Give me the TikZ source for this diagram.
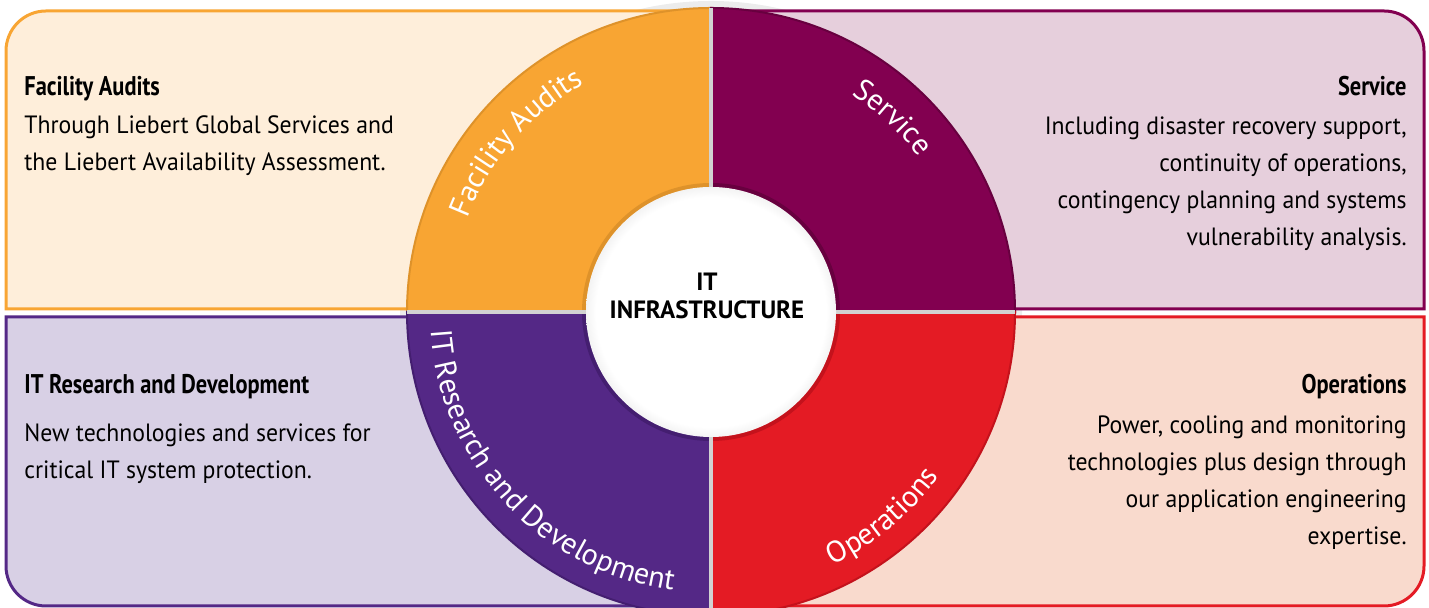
\documentclass[tikz,border=0pt]{standalone}
\usepackage{fontspec}
\setmainfont{PT Sans}
\usetikzlibrary{positioning}
\usetikzlibrary{calc}
\usetikzlibrary{decorations.text}
\newfontfamily\headfont[FakeStretch=0.83]{PT Sans}
\newfontfamily\bodyfont[FakeStretch=0.95]{PT Sans}
\newcommand{\arcfont}{\fontsize{15}{15}\selectfont}
\definecolor{audOr}{RGB}{248,165,51}
\definecolor{audOrDk}{RGB}{222,146,42}
\definecolor{audBg}{RGB}{254,238,218}
\definecolor{srvMg}{RGB}{130,0,80}
\definecolor{srvMgDk}{RGB}{104,0,63}
\definecolor{srvBg}{RGB}{230,207,220}
\definecolor{resPu}{RGB}{84,40,134}
\definecolor{resPuDk}{RGB}{68,30,112}
\definecolor{resBg}{RGB}{216,208,229}
\definecolor{opsRd}{RGB}{228,27,36}
\definecolor{opsRdDk}{RGB}{196,18,28}
\definecolor{opsBg}{RGB}{249,218,205}
\pgfdeclareradialshading{hubshade}{\pgfpoint{0bp}{0bp}}{color(0bp)=(white); color(23bp)=(white); color(35bp)=(gray!55); color(50bp)=(gray!55)}
\tikzset{
  panel/.style={line width=1.5pt},
  sector/.style={line width=1pt},
  rim/.style={line width=2pt},
  gap/.style={draw=gray!35, line width=2pt},
  headL/.style={anchor=base west, inner sep=0pt, font=\headfont\bfseries\fontsize{13.5}{16}\selectfont},
  headR/.style={headL, anchor=base east},
  bodyL/.style={anchor=base west, inner sep=0pt, align=left, font=\bodyfont\fontsize{12.5}{18.5}\selectfont},
  bodyR/.style={bodyL, anchor=base east, align=right},
  hubtext/.style={align=center, inner sep=0pt, font=\bfseries\fontsize{12.5}{14.25}\selectfont},
  arclabel/.style={decorate, decoration={text along path, text align=center, text color=white}}
}

\begin{document}
\begin{tikzpicture}[x=0.5pt, y=0.5pt]
  \useasboundingbox (0,0) rectangle (1429,608);
  \clip (0,0) rectangle (1429,608);
  \coordinate (ctr) at (711,296);
  % soft shadow behind the ring
  \fill[gray!15] (ctr) circle[radius=311];

  % panels
  \filldraw[panel, fill=audBg, draw=audOr] (711,299) -- (6,299) -- (6,557)
    arc[start angle=180, end angle=90, radius=40] -- (711,597) -- cycle;
  \filldraw[panel, fill=srvBg, draw=srvMg] (711,299) -- (1424,299) -- (1424,557)
    arc[start angle=0, end angle=90, radius=40] -- (711,597) -- cycle;
  \filldraw[panel, fill=resBg, draw=resPu] (711,291) -- (6,291) -- (6,42)
    arc[start angle=180, end angle=270, radius=40] -- (711,2) -- cycle;
  \filldraw[panel, fill=opsBg, draw=opsRd] (711,291) -- (1424,291) -- (1424,42)
    arc[start angle=0, end angle=-90, radius=40] -- (711,2) -- cycle;

  % ring
  \foreach \a/\fc/\dc in {90/audOr/audOrDk, 0/srvMg/srvMgDk, 180/resPu/resPuDk, 270/opsRd/opsRdDk} {
    \filldraw[sector, fill=\fc, draw=\dc] (ctr) -- ++(\a:304)
      arc[start angle=\a, delta angle=90, radius=304] -- cycle;
    \draw[rim, draw=\dc] ($(ctr)+(\a:127)$) arc[start angle=\a, delta angle=90, radius=127];
  }
  \draw[gap] ($(ctr)+(0,304)$) -- ($(ctr)+(0,-304)$);
  \draw[gap] ($(ctr)+(-304,0)$) -- ($(ctr)+(304,0)$);

  % hub
  \shade[shading=hubshade] (ctr) circle[radius=125];
  \node[hubtext] (hubtxt) at (707,312) {IT\\INFRASTRUCTURE};

  % labels on the ring
  \path[arclabel, decoration={text={|\arcfont|Facility Audits}}]
    ($(ctr)+(175:261)$) arc[start angle=175, end angle=103, radius=261];
  \path[arclabel, decoration={text={|\arcfont|Service}}]
    ($(ctr)+(83:259)$) arc[start angle=83, end angle=11, radius=259];
  \path[arclabel, decoration={text={|\arcfont|IT Research and Development}}]
    ($(ctr)+(178:281)$) arc[start angle=178, end angle=268, radius=281];
  \path[arclabel, decoration={text={|\arcfont|Operations}}]
    ($(ctr)+(-85:281)$) arc[start angle=-85, end angle=-15, radius=281];

  % panel texts (body nodes sit on their last line)
  \node[headL] (audHead) at (24,512) {Facility Audits};
  \node[bodyL] (audBody) at (24,437) {Through Liebert Global Services and\\the Liebert Availability Assessment.};
  \node[headR] (srvHead) at (1407,512) {Service};
  \node[bodyR] (srvBody) at (1407,362) {Including disaster recovery support,\\continuity of operations,\\contingency planning and systems\\vulnerability analysis.};
  \node[headL] (resHead) at (24,214) {IT Research and Development};
  \node[bodyL] (resBody) at (24,129) {New technologies and services for\\critical IT system protection.};
  \node[headR] (opsHead) at (1407,214) {Operations};
  \node[bodyR] (opsBody) at (1407,63) {Power, cooling and monitoring\\technologies plus design through\\our application engineering\\expertise.};
\end{tikzpicture}
\end{document}
